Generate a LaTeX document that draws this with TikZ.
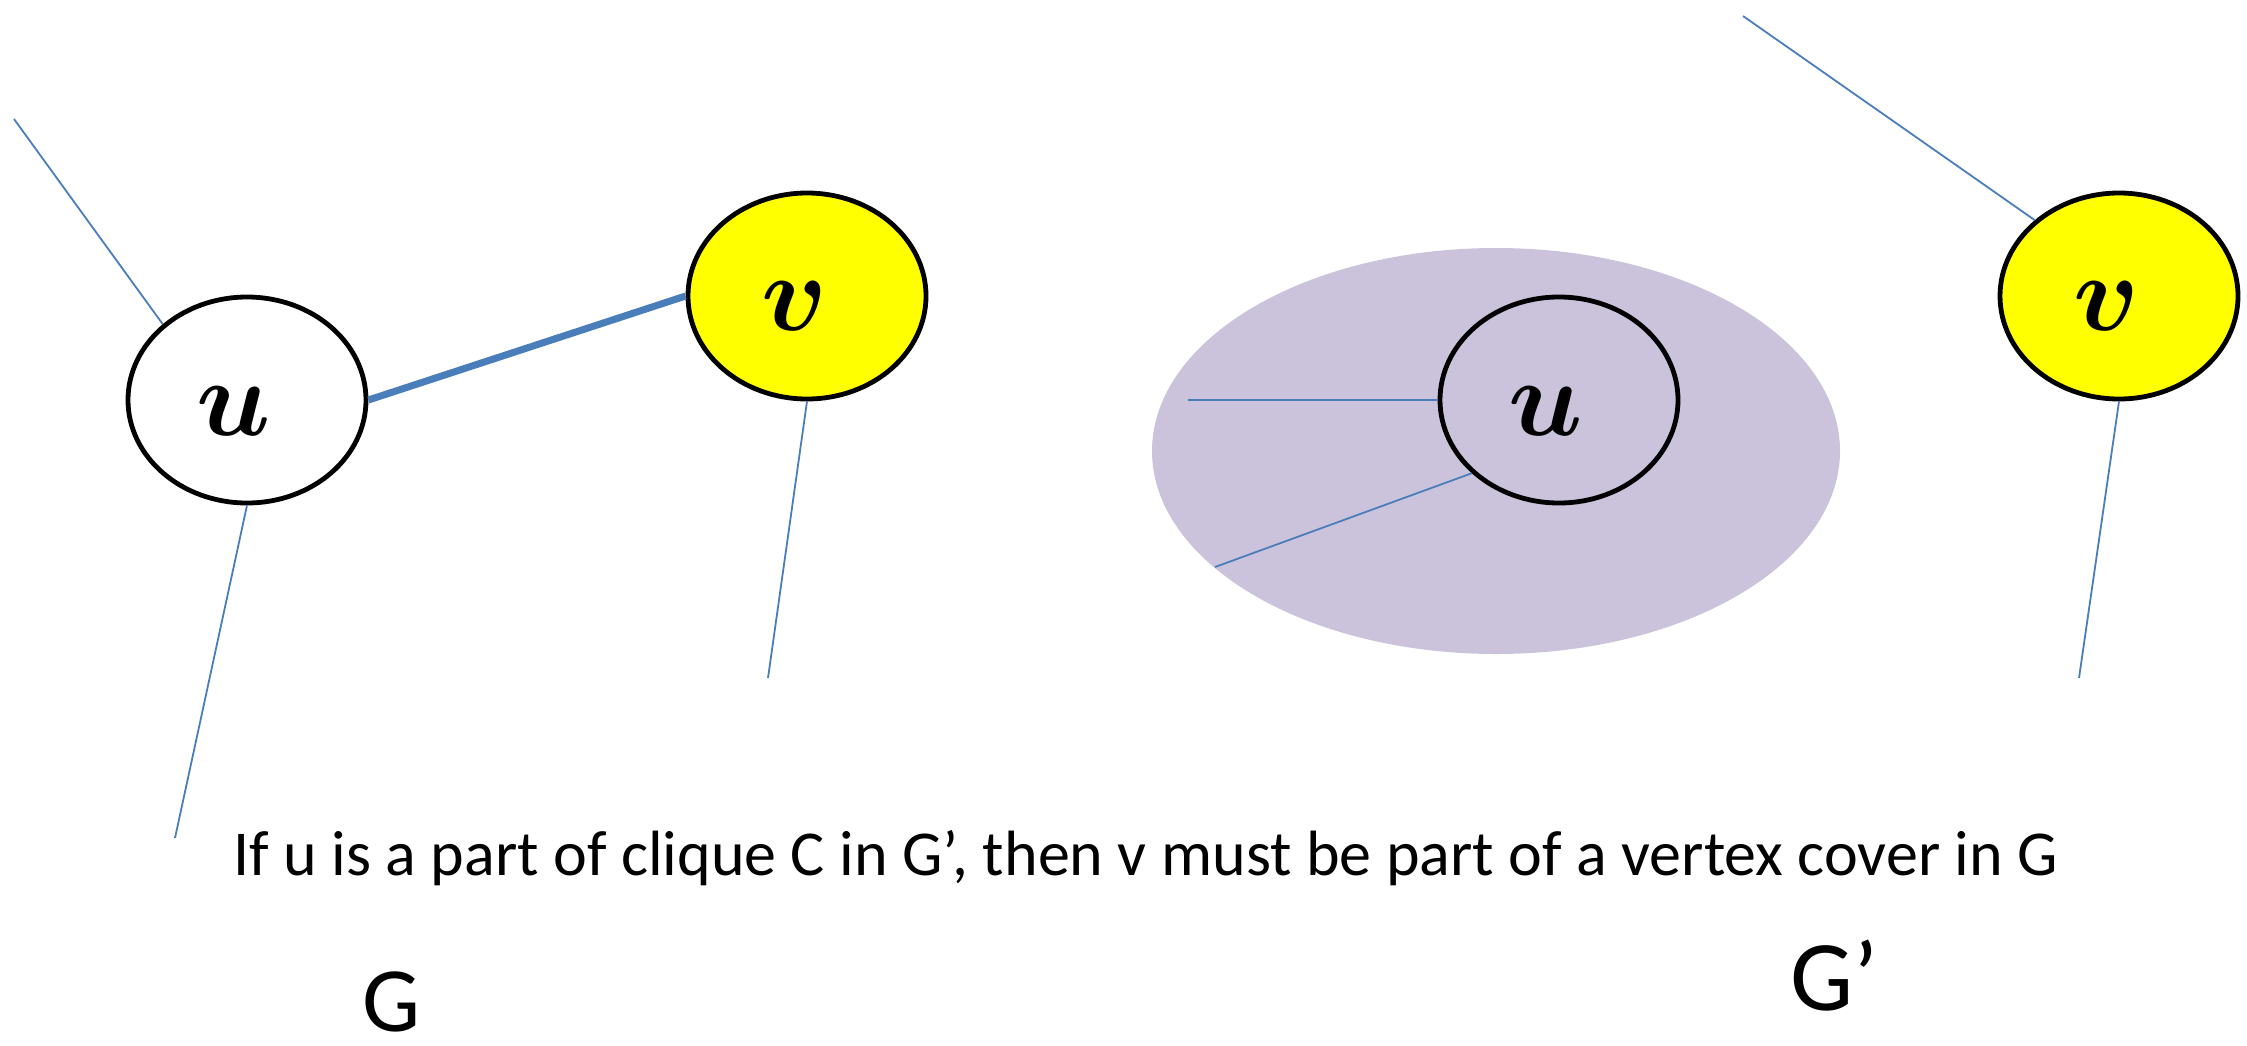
\documentclass[tikz,border=0pt]{standalone}
\usepackage{fontspec}
\setmainfont{Carlito}
\usepackage{graphicx}
\usetikzlibrary{shapes.geometric}
\definecolor{edgeblue}{RGB}{74,126,187}
\definecolor{cliquepurple}{RGB}{203,195,219}
\definecolor{vyellow}{RGB}{255,255,0}
\begin{document}
\begin{tikzpicture}[x=0.5pt,y=-0.5pt,
  vert/.style={ellipse,draw=black,line width=2.4pt,minimum width=119pt,minimum height=103pt,inner sep=0pt},
  yvert/.style={vert,fill=vyellow},
  lbl/.style={inner sep=0pt,font=\Huge\boldmath,scale=2.2},
  thin/.style={draw=edgeblue,line width=0.9pt},
  thick/.style={draw=edgeblue,line width=3.5pt},
  blob/.style={ellipse,fill=cliquepurple,draw=none,minimum width=344pt,minimum height=203pt,inner sep=0pt},
  caption/.style={inner sep=0pt,font=\fontsize{32}{38}\selectfont},
  glabel/.style={inner sep=0pt}]
\useasboundingbox (0,0) rectangle (2247,1045);
% clique blob
\node[blob] (clq) at (1496,451) {};
% vertices
\node[vert] (lu) at (247,400) {};
\node[yvert] (lv) at (807,296) {};
\node[vert] (ru) at (1559,400) {};
\node[yvert] (rv) at (2119,296) {};
\node[lbl] (lut) at ([shift={(-13,11)}]lu.center) {$u$};
\node[lbl] (lvt) at ([shift={(-12,10)}]lv.center) {$v$};
\node[lbl] (rut) at ([shift={(-13,11)}]ru.center) {$u$};
\node[lbl] (rvt) at ([shift={(-12,10)}]rv.center) {$v$};
% free ends
\coordinate (a1) at (14,119);
\coordinate (a2) at (175,838);
\coordinate (a3) at (768,678);
\coordinate (b1) at (1188,400);
\coordinate (b2) at (1215,567);
\coordinate (b3) at (1743,16);
\coordinate (b4) at (2079,678);
% edges
\draw[thin] (a1) -- (lu.138);
\draw[thin] (lu.south) -- (a2);
\draw[thick] (lu.east) -- (lv.west);
\draw[thin] (lv.south) -- (a3);
\draw[thin] (b1) -- (ru.west);
\draw[thin] (b2) -- (ru.220);
\draw[thin] (b3) -- (rv.138);
\draw[thin] (rv.south) -- (b4);
% texts
\node[caption,anchor=base west] (cap) at (233,875) {If u is a part of clique C in G’, then v must be part of a vertex cover in G};
\node[glabel,anchor=base west,font=\fontsize{46}{52}\selectfont] (gl) at (362,1031) {G};
\node[glabel,anchor=base west,font=\fontsize{50}{56}\selectfont] (gr) at (1790,1010) {G’};
\end{tikzpicture}
\end{document}
